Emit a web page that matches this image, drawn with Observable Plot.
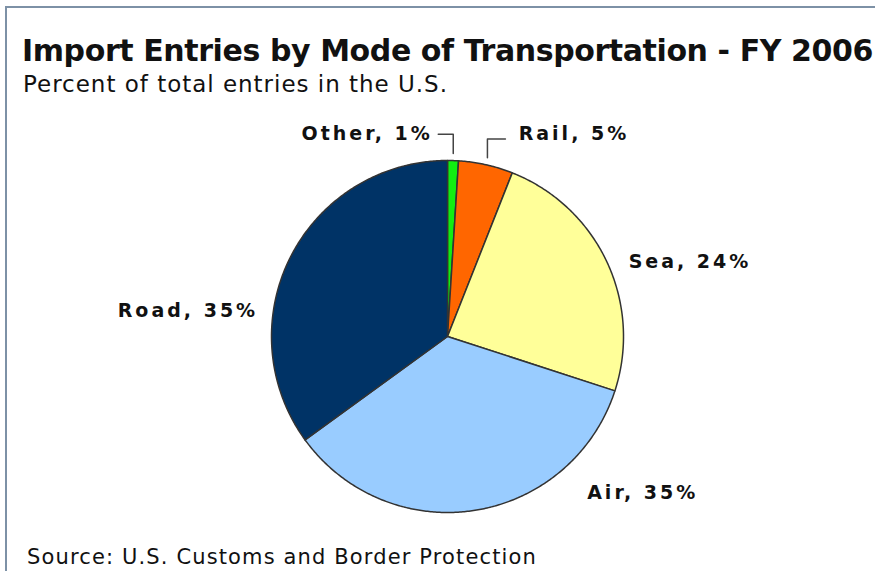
<!DOCTYPE html>
<html>
<head>
<meta charset="utf-8">
<script src="https://cdn.jsdelivr.net/npm/d3@7"></script>
<script src="https://cdn.jsdelivr.net/npm/@observablehq/plot@0.6"></script>
<style>
  html, body { margin: 0; padding: 0; background: #fff; }
  #wrap { position: relative; width: 875px; height: 571px; overflow: hidden; background: #fff; }
  #frame { position: absolute; left: 5px; top: 6px; width: 900px; height: 600px;
           border-top: 2px solid #7d91a6; border-left: 2px solid #7d91a6; }
  .txt { position: absolute; white-space: nowrap; line-height: 1; color: #111; font-family: "DejaVu Sans", Verdana, sans-serif; }
  #title { left: 22px; font-weight: bold; font-size: 30px; }
  #subtitle { left: 23px; font-size: 23px; }
  #caption { left: 27px; font-size: 21px; }
  #chart { position: absolute; left: 0; top: 110px; }
</style>
</head>
<body>
<div id="wrap">
  <div id="frame"></div>
  <div id="title" class="txt">Import Entries by Mode of Transportation - FY 2006</div>
  <div id="subtitle" class="txt">Percent of total entries in the U.S.</div>
  <div id="chart"></div>
  <div id="caption" class="txt">Source: U.S. Customs and Border Protection</div>
</div>
<script>
// ---- data ----
const categories = ["Other", "Rail", "Sea", "Air", "Road"];
const values = [1, 5, 24, 35, 35];
const colors = ["#11ee11", "#ff6600", "#ffff99", "#99ccff", "#003366"];

// ---- layout ----
const W = 875, H = 420;
const cx = 447, cy = 336 - 110, R = 176;
// label placement: radial factor on slice mid-angle, pixel nudges, anchor
const labelLayout = {
  Other: {k: 1.15, dx: -21, dy: 0, anchor: "end", leader: -15},
  Rail:  {k: 1.15, dx: 27, dy: -5, anchor: "start", leader: 18},
  Sea:   {k: 1.15, dx: -2, dy: 12, anchor: "start"},
  Air:   {k: 1.15, dx: 108, dy: -44, anchor: "start"},
  Road:  {k: 1.15, dx: -9, dy: 66, anchor: "end"}
};

const rows = categories.map((c, i) => ({cat: c, value: values[i]}));
const arcs = d3.pie().sort(null).value(d => d.value)(rows);

// slice polygons (unit circle, clockwise from 12 o'clock)
const pts = [];
for (const a of arcs) {
  const n = Math.max(4, Math.ceil((a.endAngle - a.startAngle) / (Math.PI / 360)));
  pts.push({cat: a.data.cat, x: 0, y: 0});
  for (let j = 0; j <= n; j++) {
    const t = a.startAngle + (a.endAngle - a.startAngle) * j / n;
    pts.push({cat: a.data.cat, x: Math.sin(t), y: Math.cos(t)});
  }
}

// labels and leaders
const labs = [], leaders = [];
for (const a of arcs) {
  const c = a.data.cat, L = labelLayout[c];
  const m = (a.startAngle + a.endAngle) / 2;
  const px = Math.sin(m) * L.k, py = Math.cos(m) * L.k;
  labs.push({cat: c, text: `${c}, ${a.data.value}%`, anchor: L.anchor,
             x: px + L.dx / R, y: py - L.dy / R});
  if (L.leader !== undefined) {
    const ex = Math.sin(m) * 1.04, ey = Math.cos(m) * 1.04;
    leaders.push({cat: c, x: ex, y: ey});
    leaders.push({cat: c, x: ex, y: py});
    leaders.push({cat: c, x: ex + L.leader / R, y: py});
  }
}

const labelFont = {fontFamily: "DejaVu Sans, Verdana, sans-serif", fontWeight: "bold", fontSize: 19, fill: "#111"};

const plot = Plot.plot({
  width: W, height: H,
  marginTop: 0, marginBottom: 0, marginLeft: 0, marginRight: 0,
  x: {domain: [-cx / R, (W - cx) / R], axis: null},
  y: {domain: [-(H - cy) / R, cy / R], axis: null},
  color: {domain: categories, range: colors},
  style: {background: "transparent", letterSpacing: "3px", overflow: "visible"},
  marks: [
    Plot.line(pts, {x: "x", y: "y", z: "cat", fill: "cat", stroke: "#333", strokeWidth: 1.5, curve: "linear-closed"}),
    Plot.line(leaders, {x: "x", y: "y", z: "cat", stroke: "#444", strokeWidth: 1.5}),
    Plot.text(labs.filter(d => d.anchor === "start"), {x: "x", y: "y", text: "text", textAnchor: "start", ...labelFont}),
    Plot.text(labs.filter(d => d.anchor === "end"), {x: "x", y: "y", text: "text", textAnchor: "end", ...labelFont})
  ]
});
document.getElementById("chart").appendChild(plot);

// place texts by baseline, adjusting letter-spacing to match target width
function placeBaseline(id, baseline, targetWidth) {
  const el = document.getElementById(id);
  if (targetWidth) {
    const w = el.getBoundingClientRect().width;
    const n = el.textContent.length;
    el.style.letterSpacing = ((targetWidth - w) / n) + "px";
  }
  const probe = document.createElement("span");
  probe.style.display = "inline-block"; probe.style.width = "0"; probe.style.height = "0";
  el.appendChild(probe);
  el.style.top = "0px";
  const off = probe.getBoundingClientRect().top - el.getBoundingClientRect().top;
  el.removeChild(probe);
  el.style.top = (baseline - off) + "px";
}
placeBaseline("title", 61, 851);
placeBaseline("subtitle", 92, 425);
placeBaseline("caption", 564, 510);
</script>
</body>
</html>
